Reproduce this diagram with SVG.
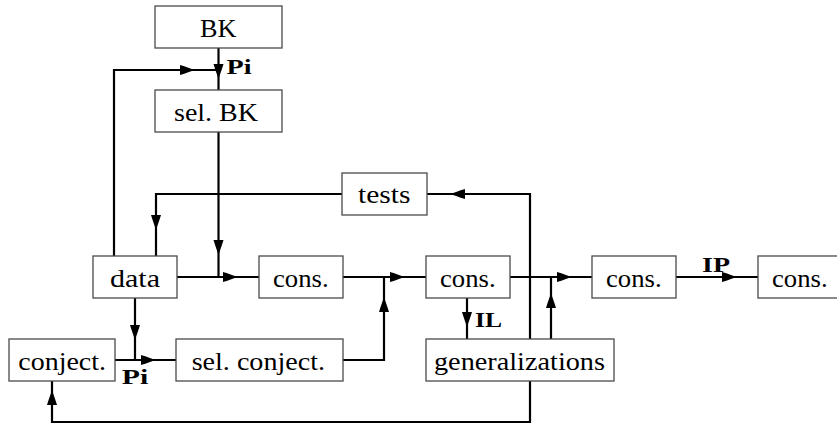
<svg xmlns="http://www.w3.org/2000/svg" xmlns:xlink="http://www.w3.org/1999/xlink" width="837" height="424" viewBox="0 0 837 424" font-family="'Liberation Serif', 'DejaVu Serif', serif">
<style>
.box{fill:#fff;stroke:#4a4a4a;stroke-width:1.3}
.lbl{font-family:'Liberation Serif','DejaVu Serif',serif;font-size:25px;fill:#000}
.tag{font-family:'Liberation Serif','DejaVu Serif',serif;font-size:21px;font-weight:bold;fill:#000}
.ln{fill:none;stroke:#000;stroke-width:2.2}
</style>
<defs>
<path id="ah" d="M0,0 C-4,-1.3 -9,-3.2 -15,-5 L-15,5 C-9,3.2 -4,1.3 0,0 Z" fill="#000"/>
</defs>
<rect width="837" height="424" fill="#fff"/>
<g id="connectors">
<path class="ln" d="M218.5,48 V90"/>
<path class="ln" d="M114,256 V70 H218.5"/>
<path class="ln" d="M218.5,132 V277"/>
<path class="ln" d="M177,277 H259"/>
<path class="ln" d="M342,194 H156 V256"/>
<path class="ln" d="M343,277 H426"/>
<path class="ln" d="M343,360 H384 V277"/>
<path class="ln" d="M135,298 V360"/>
<path class="ln" d="M115,360 H176"/>
<path class="ln" d="M530,381 V422 H52 V381"/>
<path class="ln" d="M467,298 V339"/>
<path class="ln" d="M530,339 V194 H427"/>
<path class="ln" d="M551,339 V277"/>
<path class="ln" d="M510,277 H592"/>
<path class="ln" d="M676,277 H758"/>
<use xlink:href="#ah" transform="translate(218.5,79) rotate(90)"/>
<use xlink:href="#ah" transform="translate(195,70)"/>
<use xlink:href="#ah" transform="translate(218.5,255) rotate(90)"/>
<use xlink:href="#ah" transform="translate(238,277)"/>
<use xlink:href="#ah" transform="translate(156,230) rotate(90)"/>
<use xlink:href="#ah" transform="translate(405,277)"/>
<use xlink:href="#ah" transform="translate(384,297) rotate(-90)"/>
<use xlink:href="#ah" transform="translate(135,340) rotate(90)"/>
<use xlink:href="#ah" transform="translate(156,360)"/>
<use xlink:href="#ah" transform="translate(52,390) rotate(-90)"/>
<use xlink:href="#ah" transform="translate(467,327) rotate(90)"/>
<use xlink:href="#ah" transform="translate(450,194) rotate(180)"/>
<use xlink:href="#ah" transform="translate(551,293) rotate(-90)"/>
<use xlink:href="#ah" transform="translate(572,277)"/>
<use xlink:href="#ah" transform="translate(737,277)"/>
<text class="tag" x="226.5" y="74" textLength="25" lengthAdjust="spacingAndGlyphs">Pi</text>
<text class="tag" x="121.7" y="383.5" textLength="26.5" lengthAdjust="spacingAndGlyphs">Pi</text>
<text class="tag" x="475" y="327" textLength="27" lengthAdjust="spacingAndGlyphs">IL</text>
<text class="tag" x="702" y="272" textLength="28" lengthAdjust="spacingAndGlyphs">IP</text>
</g>
<g id="bk"><rect class="box" x="155" y="6" width="127" height="42"/><text class="lbl" x="200" y="37" textLength="36.5" lengthAdjust="spacingAndGlyphs">BK</text></g>
<g id="selbk"><rect class="box" x="155" y="90" width="127" height="42"/><text class="lbl" x="174" y="121" textLength="84" lengthAdjust="spacingAndGlyphs">sel. BK</text></g>
<g id="tests"><rect class="box" x="342" y="173" width="85" height="42"/><text class="lbl" x="358" y="203" textLength="52.5" lengthAdjust="spacingAndGlyphs">tests</text></g>
<g id="data"><rect class="box" x="93" y="256" width="84" height="42"/><text class="lbl" x="110" y="286.5" textLength="50" lengthAdjust="spacingAndGlyphs">data</text></g>
<g id="cons1"><rect class="box" x="259" y="256" width="84" height="42"/><text class="lbl" x="273" y="286.5" textLength="55.6" lengthAdjust="spacingAndGlyphs">cons.</text></g>
<g id="cons2"><rect class="box" x="426" y="256" width="84" height="42"/><text class="lbl" x="440" y="286.5" textLength="55.6" lengthAdjust="spacingAndGlyphs">cons.</text></g>
<g id="cons3"><rect class="box" x="592" y="256" width="84" height="42"/><text class="lbl" x="606" y="286.5" textLength="55.6" lengthAdjust="spacingAndGlyphs">cons.</text></g>
<g id="cons4"><rect class="box" x="758" y="256" width="84" height="42"/><text class="lbl" x="772" y="286.5" textLength="55.6" lengthAdjust="spacingAndGlyphs">cons.</text></g>
<g id="conject"><rect class="box" x="9" y="339" width="106" height="42"/><text class="lbl" x="18.3" y="369.5" textLength="87.7" lengthAdjust="spacingAndGlyphs">conject.</text></g>
<g id="selconject"><rect class="box" x="176" y="339" width="167" height="42"/><text class="lbl" x="191.7" y="369.5" textLength="133.3" lengthAdjust="spacingAndGlyphs">sel. conject.</text></g>
<g id="generalizations"><rect class="box" x="426" y="339" width="188" height="42"/><text class="lbl" x="434" y="369.5" textLength="171" lengthAdjust="spacingAndGlyphs">generalizations</text></g>
</svg>
